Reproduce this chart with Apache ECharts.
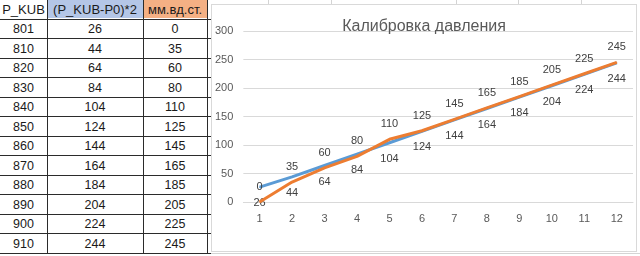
<!DOCTYPE html>
<html>
<head>
<meta charset="utf-8">
<script src="https://cdn.jsdelivr.net/npm/echarts@6/dist/echarts.min.js"></script>
<style>
  html, body { margin: 0; padding: 0; background: #ffffff; }
  #page { position: relative; width: 640px; height: 256px; overflow: hidden; background: #fff; font-family: 'Liberation Sans', Arial, sans-serif; }
  .cell { position: absolute; display: flex; align-items: center; justify-content: center; color: #1a1a1a; font-size: 12.5px; box-sizing: border-box; }
  .hl { position: absolute; height: 1px; background: #2b2b2b; }
  .vl { position: absolute; width: 1px; background: #2b2b2b; }
  .gl { position: absolute; background: #d4d4d4; }
  #chart { position: absolute; left: 211px; top: 4px; width: 426px; height: 248px; box-sizing: border-box; border: 1px solid #d9d9d9; background: #fff; }
</style>
</head>
<body>
<div id="page">
  <div id="chart"></div>
</div>
<script>
// ---- data ----
const headers = ['P_KUB', '(P_KUB-P0)*2', 'мм.вд.ст.'];
const pKub = [801, 810, 820, 830, 840, 850, 860, 870, 880, 890, 900, 910];
const scaled = [26, 44, 64, 84, 104, 124, 144, 164, 184, 204, 224, 244];
const mmH2O = [0, 35, 60, 80, 110, 125, 145, 165, 185, 205, 225, 245];
const categories = ['1', '2', '3', '4', '5', '6', '7', '8', '9', '10', '11', '12'];
const chartTitle = 'Калибровка давления';

// ---- table (spreadsheet part) ----
const page = document.getElementById('page');
const colX = [0, 47, 143, 207];
const headerBg = ['#ffffff', '#b4c6e7', '#f4b084'];
const headerH = 19;
const rowH = 19.5;
function add(cls, css, text) {
  const d = document.createElement('div');
  d.className = cls;
  Object.assign(d.style, css);
  if (text !== undefined) d.textContent = text;
  page.insertBefore(d, document.getElementById('chart'));
  return d;
}
// background excel grid lines around chart
[268, 331, 456, 518, 581].forEach(x => add('gl', {left: x + 'px', top: '0px', width: '1px', height: '4px'}));
add('gl', {left: '207px', top: '253px', width: '433px', height: '1px'});
// header
for (let c = 0; c < 3; c++) {
  add('cell', {left: colX[c] + 'px', top: '0px', width: (colX[c + 1] - colX[c]) + 'px', height: (headerH - 1) + 'px', background: headerBg[c], fontSize: '13px'}, headers[c]);
}
// rows
const cols = [pKub, scaled, mmH2O];
for (let r = 0; r < pKub.length; r++) {
  const top = headerH + r * rowH;
  for (let c = 0; c < 3; c++) {
    add('cell', {left: colX[c] + 'px', top: (top + 1) + 'px', width: (colX[c + 1] - colX[c]) + 'px', height: (rowH - 1) + 'px'}, String(cols[c][r]));
  }
}
// horizontal borders
for (let r = 0; r <= pKub.length; r++) {
  const y = Math.round(headerH + r * rowH - 0.5);
  add('hl', {left: '0px', top: y + 'px', width: '211px'});
}
// vertical borders
[47, 143, 207].forEach(x => add('vl', {left: x + 'px', top: '0px', height: '254px'}));

// ---- chart ----
const chart = echarts.init(document.getElementById('chart'), null, {renderer: 'canvas'});
const font = "'Liberation Sans', Arial, sans-serif";
chart.setOption({
  animation: false,
  backgroundColor: '#ffffff',
  title: {
    text: chartTitle,
    left: 'center',
    top: 14,
    padding: 0,
    textStyle: {fontFamily: font, fontSize: 16, fontWeight: 'normal', color: '#595959'}
  },
  grid: {left: 30, right: 3, top: 26, bottom: 49, containLabel: false},
  xAxis: {
    type: 'category',
    data: categories,
    boundaryGap: true,
    axisLine: {show: true, lineStyle: {color: '#d9d9d9', width: 1}},
    axisTick: {show: false},
    axisLabel: {fontFamily: font, fontSize: 11, color: '#595959', margin: 11}
  },
  yAxis: {
    type: 'value',
    min: 0,
    max: 300,
    interval: 50,
    axisLine: {show: false},
    axisTick: {show: false},
    splitLine: {lineStyle: {color: '#d9d9d9', width: 1}},
    axisLabel: {fontFamily: font, fontSize: 11, color: '#595959', margin: 10}
  },
  series: [
    {
      name: headers[1],
      type: 'line',
      data: scaled,
      showSymbol: true,
      symbol: 'circle',
      symbolSize: 1,
      lineStyle: {color: '#5b9bd5', width: 3},
      itemStyle: {color: '#5b9bd5'},
      label: {show: true, position: 'bottom', distance: 10, fontFamily: font, fontSize: 11, color: '#404040'},
      labelLayout: {hideOverlap: false},
      z: 2
    },
    {
      name: headers[2],
      type: 'line',
      data: mmH2O,
      showSymbol: true,
      symbol: 'circle',
      symbolSize: 1,
      lineStyle: {color: '#ed7d31', width: 3},
      itemStyle: {color: '#ed7d31'},
      label: {show: true, position: 'top', distance: 9, fontFamily: font, fontSize: 11, color: '#404040'},
      labelLayout: {hideOverlap: false},
      z: 3
    }
  ]
});
</script>
</body>
</html>
